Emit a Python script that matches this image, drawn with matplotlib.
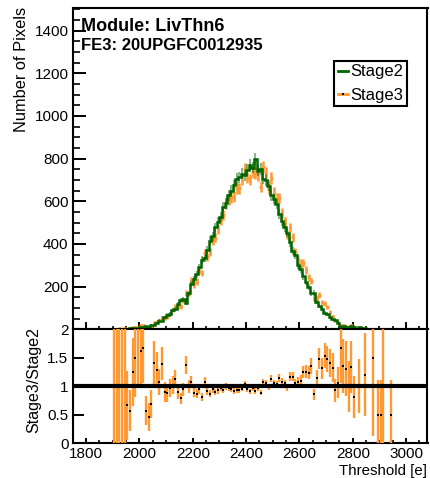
import numpy as np
import matplotlib
matplotlib.use('Agg')
import matplotlib.pyplot as plt
from matplotlib.lines import Line2D
from matplotlib.ticker import MultipleLocator, FixedLocator, FuncFormatter

plt.rcParams['font.family'] = ['Liberation Sans', 'DejaVu Sans']

# ---------------- data (threshold histograms, 10 e bins from 1900 e) ----------------
bin_start = 1900
bin_width = 10
stage2 = [1, 1, 1, 1, 1,
          3, 7, 8, 8, 5,
          13, 12, 14, 11, 19,
          22, 28, 40, 40, 57,
          66, 74, 90, 96, 118,
          136, 140, 124, 168, 212,
          236, 258, 290, 326, 332,
          372, 416, 436, 478, 502,
          528, 574, 590, 628, 650,
          676, 704, 712, 730, 722,
          748, 770, 758, 796, 744,
          752, 706, 700, 672, 628,
          610, 588, 540, 506, 478,
          452, 408, 368, 346, 300,
          282, 248, 222, 196, 168,
          170, 128, 108, 96, 78,
          70, 57, 46, 42, 30,
          12, 14, 13, 10, 15,
          11, 0, 9, 0, 5,
          0, 0, 2, 0, 2,
          2, 1, 0, 0, 2,
          0]
stage3 = [3, 3, 4, 3, 4,
          2, 4, 10, 12, 11,
          21, 20, 8, 5, 13,
          31, 36, 43, 56, 51,
          58, 72, 92, 109, 107,
          107, 133, 170, 168, 228,
          210, 224, 275, 264, 359,
          339, 362, 414, 430, 467,
          512, 534, 590, 609, 618,
          622, 662, 662, 701, 751,
          711, 701, 735, 732, 722,
          669, 762, 735, 659, 710,
          641, 612, 616, 546, 502,
          443, 477, 431, 363, 324,
          310, 310, 278, 243, 227,
          146, 147, 160, 126, 120,
          104, 80, 61, 39, 32,
          20, 19, 17, 10, 20,
          9, 5, 9, 4, 6,
          3, 2, 3, 2, 1,
          1, 1, 1, 0, 1,
          0]
labels = ['Stage2', 'Stage3']
module_text = 'Module: LivThn6'
fe_text = 'FE3: 20UPGFC0012935'

# ---------------- derived ----------------
n2 = np.array(stage2, dtype=float)
n3 = np.array(stage3, dtype=float)
edges = bin_start + bin_width * np.arange(len(n2) + 1)
centers = 0.5 * (edges[:-1] + edges[1:])
ok = (n2 > 0) & (n3 > 0)
ratio = n3[ok] / n2[ok]
rerr = ratio * np.sqrt(1.0 / n3[ok] + 1.0 / n2[ok])

green = '#006400'
orange = '#ff9933'

W, H = 431, 478
fig = plt.figure(figsize=(W / 100, H / 100), dpi=100)
L, R = 73.3, 427.5
ax = fig.add_axes([L / W, 1 - 329.3 / H, (R - L) / W, (329.3 - 8) / H])
ax2 = fig.add_axes([L / W, 1 - 443.3 / H, (R - L) / W, (443.3 - 329.3) / H])

# top panel
ax.errorbar(centers, n3, xerr=bin_width / 2, yerr=np.sqrt(n3), fmt='none',
            ecolor=orange, elinewidth=1.8, capsize=0, zorder=2)
ax.errorbar(centers, n2, yerr=np.sqrt(n2), fmt='none', ecolor=green,
            elinewidth=1.3, alpha=0.5, capsize=0, zorder=3)
ax.stairs(n2, edges, color=green, lw=1.8, zorder=4)

ax.set_xlim(1752, 3080)
ax.set_ylim(0, 1506)
ax.xaxis.set_major_locator(MultipleLocator(200))
ax.xaxis.set_minor_locator(MultipleLocator(50))
ax.yaxis.set_major_locator(FixedLocator([200, 400, 600, 800, 1000, 1200, 1400]))
ax.yaxis.set_minor_locator(MultipleLocator(50))
ax.tick_params(axis='x', which='major', direction='in', length=5, width=1.4, labelbottom=False)
ax.tick_params(axis='x', which='minor', direction='in', length=2.5, width=1.2)
ax.tick_params(axis='y', which='major', direction='in', length=9.5, width=1.4, labelsize=11, pad=3.5)
ax.tick_params(axis='y', which='minor', direction='in', length=5, width=1.2)
for s in ax.spines.values():
    s.set_linewidth(1.5)

ax.text(0.022, 0.941, module_text, transform=ax.transAxes, fontsize=13,
        fontweight='bold', ha='left', va='center')
ax.text(0.022, 0.882, fe_text, transform=ax.transAxes, fontsize=12,
        fontweight='bold', ha='left', va='center')

h2 = Line2D([], [], color=green, lw=2)
h3 = Line2D([], [], color=orange, lw=2, marker='s', ms=1.5, mew=0, mfc='black')
leg = ax.legend([h2, h3], labels, loc='upper left', bbox_to_anchor=(0.737, 0.835),
                fontsize=12, frameon=True, fancybox=False, edgecolor='black',
                framealpha=1, handlelength=0.6, handletextpad=0.15, borderpad=0.2,
                labelspacing=0.5, borderaxespad=0)
leg.get_frame().set_linewidth(1.5)

# ratio panel
ax2.errorbar(centers[ok], ratio, yerr=rerr, fmt='s', ms=1.7, mew=0, mfc='black',
             ecolor=orange, elinewidth=1.7, capsize=0, zorder=3)
ax2.axhline(1, color='black', lw=3, zorder=5)
ax2.set_xlim(1752, 3080)
ax2.set_ylim(0, 2)
ax2.xaxis.set_major_locator(MultipleLocator(200))
ax2.xaxis.set_minor_locator(MultipleLocator(50))
ax2.yaxis.set_major_locator(MultipleLocator(0.5))
ax2.yaxis.set_major_formatter(FuncFormatter(lambda v, p: f'{v:g}'))
ax2.tick_params(axis='x', which='major', direction='in', length=3.5, width=1.4, labelsize=11, pad=2.5)
ax2.tick_params(axis='x', which='minor', direction='in', length=2, width=1.2)
ax2.tick_params(axis='y', which='major', direction='in', length=8, width=1.4, labelsize=11, pad=3.5)
for s in ax2.spines.values():
    s.set_linewidth(1.5)

fig.text(21.7 / W, 1 - 7.3 / H, 'Number of Pixels', rotation=90, ha='center', va='top', fontsize=11.8)
fig.text(34 / W, 1 - 380 / H, 'Stage3/Stage2', rotation=90, ha='center', va='center', fontsize=11.5)
fig.text(427 / W, 1 - 477.5 / H, 'Threshold [e]', ha='right', va='bottom', fontsize=10.8)

fig.savefig('out.png', dpi=100)
